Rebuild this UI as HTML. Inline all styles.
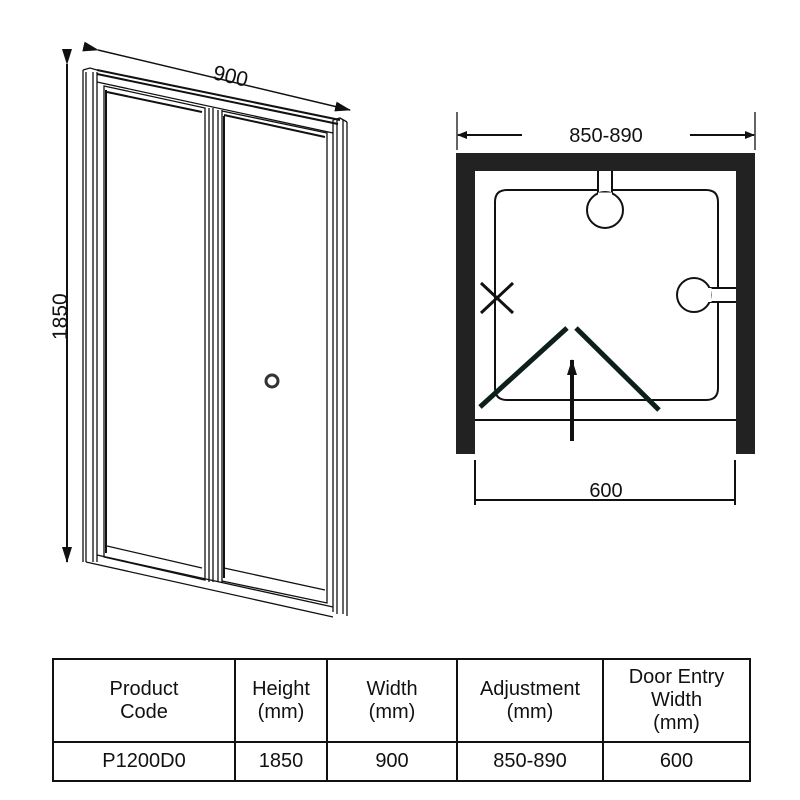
<!DOCTYPE html>
<html><head><meta charset="utf-8"><style>
body{margin:0;background:#fff;width:800px;height:800px;overflow:hidden;font-family:"Liberation Sans",sans-serif}
table{position:absolute;left:52px;top:658px;border-collapse:collapse;}
td{border:2px solid #111;text-align:center;font-size:20px;line-height:23px;color:#111;padding:0}
</style></head><body>
<svg width="800" height="800" style="position:absolute;left:0;top:0" font-family="Liberation Sans, sans-serif">
<defs><marker id="a" markerWidth="10" markerHeight="8" refX="9" refY="4" orient="auto" markerUnits="userSpaceOnUse"><path d="M0,0L10,4L0,8z" fill="#111"/></marker>
<marker id="b" markerWidth="16" markerHeight="10" refX="15" refY="5" orient="auto" markerUnits="userSpaceOnUse"><path d="M0,0L16,5L0,10z" fill="#111"/></marker></defs>
<g stroke="#111" fill="none" stroke-width="1.3">
<line x1="67" y1="64" x2="67" y2="562" marker-start="url(#b)" marker-end="url(#b)" stroke-width="2"/>
<line x1="98" y1="50" x2="350" y2="110" marker-start="url(#b)" marker-end="url(#b)" stroke-width="1.5"/>
<path d="M83,70 L83,562 M86,72 L86,562 M93,72 L93,562 M97,72 L97,562"/>
<path d="M83,70 L90,68 L97,70"/>
<path d="M333,120 L333,612 M337,120 L337,614 M343,120 L343,614 M347,122 L347,616" />
<path d="M333,120 L340,118 L347,122"/>
<path d="M97,70 L340,120 M97,74 L338,124" stroke-width="2"/>
<path d="M97,82 L333,133"/>
<path d="M104,86 L205,108 L205,580 L104,557 Z"/>
<path d="M107,92 L202,112 M106,90 L106,553" stroke-width="2"/>
<path d="M107,546 L202,568"/>
<path d="M209,108 L209,582 M213,108 L213,582 M218,110 L218,582 M222,110 L222,583" />
<path d="M222,111 L327,133 L327,603 L222,581"/>
<path d="M224,115 L325,137 M224,116 L224,578" stroke-width="2"/>
<path d="M224,568 L325,590"/>
<path d="M97,555 L333,607 M86,562 L333,617" stroke-width="1.3"/>
<circle cx="272" cy="381" r="6" stroke-width="3" stroke="#333"/>
</g>
<text x="0" y="0" font-size="21" transform="translate(212,79) rotate(13)" fill="#111">900</text>
<text x="0" y="0" font-size="21" transform="translate(67,340) rotate(-90)" fill="#111">1850</text>
<g fill="#222">
<rect x="456" y="153" width="299" height="18"/>
<rect x="456" y="153" width="19" height="301"/>
<rect x="736" y="153" width="19" height="301"/>
</g>
<g stroke="#111" fill="none" stroke-width="2">
<line x1="457" y1="112" x2="457" y2="150" stroke-width="1.3"/>
<line x1="755" y1="112" x2="755" y2="150" stroke-width="1.3"/>
<line x1="522" y1="135" x2="458" y2="135" marker-end="url(#a)"/>
<line x1="690" y1="135" x2="754" y2="135" marker-end="url(#a)"/>
<line x1="475" y1="460" x2="475" y2="505"/>
<line x1="735" y1="460" x2="735" y2="505"/>
<line x1="475" y1="500" x2="735" y2="500"/>
<path d="M598,190 L507,190 Q495,190 495,202 L495,388 Q495,400 507,400 L706,400 Q718,400 718,388 L718,302 M718,288 L718,202 Q718,190 706,190 L612,190"/>
<path d="M598,171 L598,193 M612,171 L612,193"/>
<circle cx="605" cy="210" r="18" fill="#fff"/>
<line x1="598" y1="194" x2="612" y2="194" stroke="#fff" stroke-width="3"/>
<path d="M710,288 L736,288 M710,302 L736,302"/>
<circle cx="694" cy="295" r="17" fill="#fff"/>
<line x1="710" y1="288" x2="710" y2="302" stroke="#fff" stroke-width="3"/>
<line x1="475" y1="420" x2="736" y2="420"/>
<path d="M481,283 L513,313 M513,283 L481,313" stroke-width="3"/>
<line x1="572" y1="441" x2="572" y2="360" marker-end="url(#b)" stroke-width="4"/>
</g>
<g stroke="#0d1f1c" stroke-width="5">
<line x1="480" y1="407" x2="567" y2="328"/>
<line x1="576" y1="328" x2="659" y2="410"/>
</g>
<text x="606" y="142" font-size="20" text-anchor="middle" fill="#111">850-890</text>
<text x="606" y="497" font-size="20" text-anchor="middle" fill="#111">600</text>
</svg>
<table>
<tr style="height:83px"><td style="width:180px">Product<br>Code</td><td style="width:90px">Height<br>(mm)</td><td style="width:128px">Width<br>(mm)</td><td style="width:144px">Adjustment<br>(mm)</td><td style="width:145px">Door Entry<br>Width<br>(mm)</td></tr>
<tr style="height:39px"><td>P1200D0</td><td>1850</td><td>900</td><td>850-890</td><td>600</td></tr>
</table>
</body></html>
